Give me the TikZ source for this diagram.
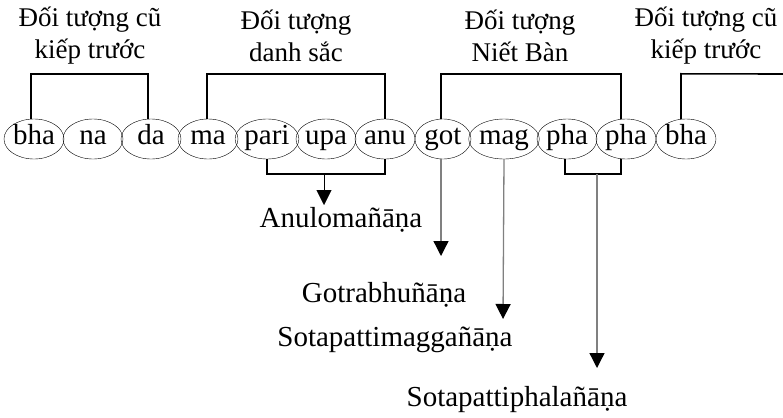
\documentclass[tikz,border=0pt]{standalone}
\usepackage{fontspec}
\setmainfont{Liberation Serif}
\usetikzlibrary{shapes.geometric,arrows.meta}
\tikzset{
  syl/.style={draw,ellipse,thin,minimum width=60pt,minimum height=40pt,inner sep=0pt,
    text height=17pt,text depth=6pt,font=\fontsize{29}{34}\selectfont},
  brace/.style={line width=1.6pt},
  objtext/.style={align=center,font=\fontsize{27}{32}\selectfont},
  knowtext/.style={font=\fontsize{29}{34}\selectfont},
  pathway/.style={draw=gray,line width=1.3pt,-{Triangle[width=15pt,length=15pt,black]}},
}
\begin{document}
\begin{tikzpicture}[x=1pt,y=-1pt]
  \useasboundingbox (0,0) rectangle (783,417);

  %SYLLABLES
  \node[syl] (bhaA) at (34,139) {bha};
  \node[syl] (na) at (93,139) {na};
  \node[syl] (da) at (151,139) {da};
  \node[syl] (ma) at (208,139) {ma};
  \node[syl] (pari) at (267,139) {pari};
  \node[syl] (upa) at (326,139) {upa};
  \node[syl] (anu) at (385,139) {anu};
  \node[syl,minimum width=56pt] (got) at (443,139) {got};
  \node[syl,minimum width=66pt] (mag) at (504,139) {mag};
  \node[syl] (phaA) at (567,139) {pha};
  \node[syl] (phaB) at (626,139) {pha};
  \node[syl] (bhaB) at (686,139) {bha};

  %OBJECTS
  \node[objtext] (kiepA) at (90,36) {Đối tượng cũ\\kiếp trước};
  \node[objtext] (danh) at (296,36) {Đối tượng\\danh sắc};
  \node[objtext] (niet) at (520,36) {Đối tượng\\Niết Bàn};
  \node[objtext] (kiepB) at (706,36) {Đối tượng cũ\\kiếp trước};

  \draw[brace] ([xshift=-3pt]bhaA.north) -- ++(0,-45) -| ([xshift=-3pt]da.north);
  \draw[brace] ([xshift=-1pt]ma.north) -- ++(0,-45) -| (anu.north);
  \draw[brace] ([xshift=-2pt]got.north) -- ++(0,-45) -| ([xshift=-5pt]phaB.north);
  \draw[brace] ([xshift=-5pt]bhaB.north) -- ++(0,-45) -- (783,74);

  %KNOWLEDGES
  \node[knowtext] (anulo) at (341,220) {Anulomañāṇa};
  \node[knowtext] (gotra) at (384,295) {Gotrabhuñāṇa};
  \node[knowtext] (magga) at (395,340) {Sotapattimaggañāṇa};
  \node[knowtext] (phala) at (517,400) {Sotapattiphalañāṇa};

  \draw[brace] (pari.south) -- ++(0,15) -| (anu.south);
  \coordinate (anuMid) at (324,174);
  \coordinate (anuTip) at (324,205);
  \draw[thin,-{Triangle[width=15pt,length=15pt]}] (anuMid) -- (anuTip);

  \coordinate (gotTip) at (441,256);
  \draw[pathway] ([xshift=-2pt]got.south) -- (gotTip);
  \coordinate (magTip) at (503,319);
  \draw[pathway] (mag.south) -- (magTip);

  \draw[brace] ([xshift=-2pt]phaA.south) -- ++(0,15) -| ([xshift=-5pt]phaB.south);
  \coordinate (phaMid) at (597,174);
  \coordinate (phaTip) at (597,368);
  \draw[pathway] (phaMid) -- (phaTip);
\end{tikzpicture}
\end{document}
